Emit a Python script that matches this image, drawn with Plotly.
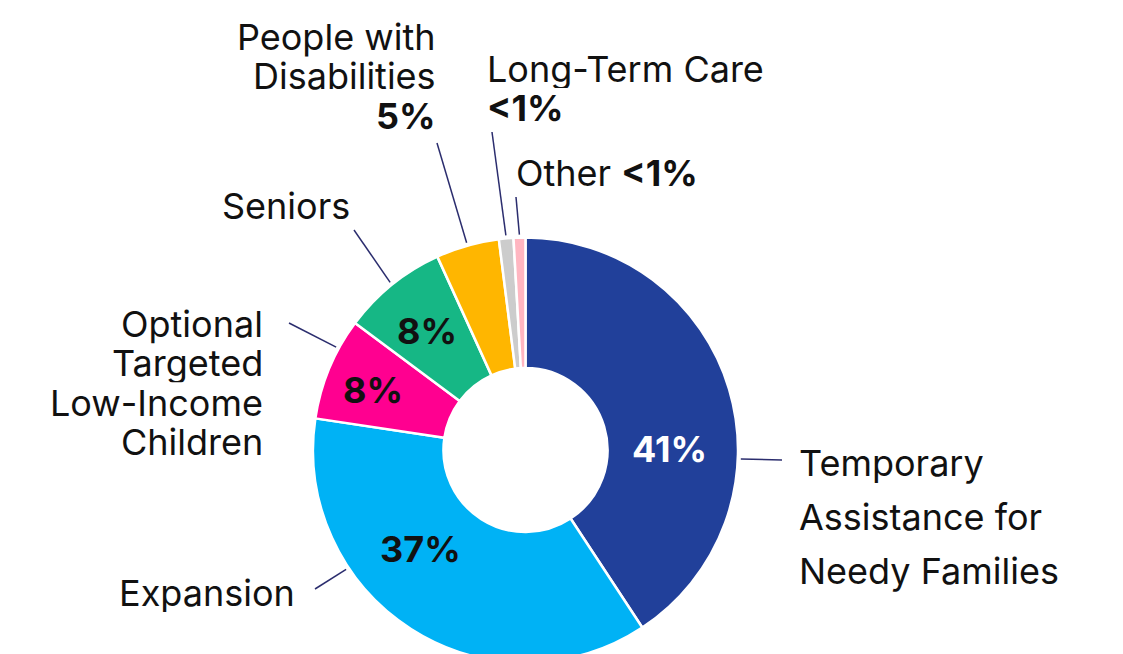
import math
import plotly.graph_objects as go

# data
categories = [
    "Temporary Assistance for Needy Families",
    "Expansion",
    "Optional Targeted Low-Income Children",
    "Seniors",
    "People with Disabilities",
    "Long-Term Care",
    "Other",
]
shares = [40.7, 36.6, 7.8, 8.0, 4.8, 1.1, 0.9]
share_labels = ["41%", "37%", "8%", "8%", "5%", "&lt;1%", "&lt;1%"]
label_lines = [
    ["Temporary", "Assistance for", "Needy Families"],
    ["Expansion"],
    ["Optional", "Targeted", "Low-Income", "Children"],
    ["Seniors"],
    ["People with", "Disabilities"],
    ["Long-Term Care"],
    ["Other"],
]
colors = ["#21409A", "#00B2F5", "#FF0090", "#16B785", "#FFB600", "#CCCCCC", "#FFB6C1"]

W, H = 1123, 680
CX, CY, R = 525.5, 450, 212.5
HOLE = 0.386
FONT = "Inter"
LINE = "#2B2D6E"

# label placement (pixels): text anchor, line pitch, percent placement, leader line
placement = [
    dict(x=797, y=463, pitch=54, side="left", pct="ring", ring=(669, 449), f=0.63, end=(782, 460)),
    dict(x=297, y=592, pitch=40, side="right", pct="ring", ring=(420, 549), f=0.68, end=(315, 589)),
    dict(x=265, y=324, pitch=39.3, side="right", pct="ring", ring=(373, 390), f=0.71, end=(289, 323)),
    dict(x=352, y=205, pitch=40, side="right", pct="ring", ring=(427, 331), f=0.5, end=(354, 230)),
    dict(x=438, y=37, pitch=39.5, side="right", pct="below", f=0.5, end=(437, 143)),
    dict(x=485, y=69, pitch=39, side="left", pct="below", f=0.5, end=(492, 132)),
    dict(x=514, y=172, pitch=40, side="left", pct="inline", f=0.5, end=(516, 197)),
]


def px(x):
    return x / W


def py(y):
    return 1 - y / H


fig = go.Figure(
    go.Pie(
        labels=categories,
        values=shares,
        sort=False,
        direction="clockwise",
        rotation=0,
        hole=HOLE,
        marker=dict(colors=colors, line=dict(color="white", width=2.5)),
        textinfo="none",
        hoverinfo="label+percent",
        showlegend=False,
        domain=dict(
            x=[px(CX - 300), px(CX + 300)],
            y=[py(CY + R), py(CY - R)],
        ),
    )
)

total = sum(shares)
ann = []
shapes = []
start = 0.0
for i, v in enumerate(shares):
    span = v / total * 360
    p = placement[i]
    lines = list(label_lines[i])
    box_h = min(p["pitch"] - 1, 44)
    bold = dict(family=FONT, size=36, color="#111111", weight=700)
    if p["pct"] == "inline":
        lines[-1] = lines[-1] + " <b>" + share_labels[i] + "</b>"
    for k, t in enumerate(lines):
        ann.append(dict(
            text=t, x=px(p["x"]), y=py(p["y"] + k * p["pitch"]),
            xref="paper", yref="paper", xanchor=p["side"], yanchor="middle",
            height=box_h, showarrow=False,
            font=dict(family=FONT, size=36, color="#111111"),
        ))
    if p["pct"] == "below":
        ann.append(dict(
            text=share_labels[i], x=px(p["x"]), y=py(p["y"] + len(lines) * p["pitch"]),
            xref="paper", yref="paper", xanchor=p["side"], yanchor="middle",
            height=box_h, showarrow=False, font=bold,
        ))
    elif p["pct"] == "ring":
        ann.append(dict(
            text=share_labels[i], x=px(p["ring"][0]), y=py(p["ring"][1]),
            xref="paper", yref="paper", xanchor="center", yanchor="middle",
            showarrow=False,
            font=dict(family=FONT, size=36, weight=700,
                      color="white" if i == 0 else "#111111"),
        ))
    # leader line from the slice edge to the label
    a = math.radians(start + p["f"] * span)
    x0 = CX + (R + 3) * math.sin(a)
    y0 = CY - (R + 3) * math.cos(a)
    shapes.append(dict(
        type="line", xref="paper", yref="paper",
        x0=px(x0), y0=py(y0), x1=px(p["end"][0]), y1=py(p["end"][1]),
        line=dict(color=LINE, width=1.5),
    ))
    start += span

fig.update_layout(
    width=W,
    height=H,
    margin=dict(l=0, r=0, t=0, b=0),
    paper_bgcolor="white",
    plot_bgcolor="white",
    annotations=ann,
    shapes=shapes,
)

fig.write_html(
    "out.html",
    config={"displayModeBar": False},
    post_script="document.body.style.margin='0';document.body.style.overflow='hidden';",
)
